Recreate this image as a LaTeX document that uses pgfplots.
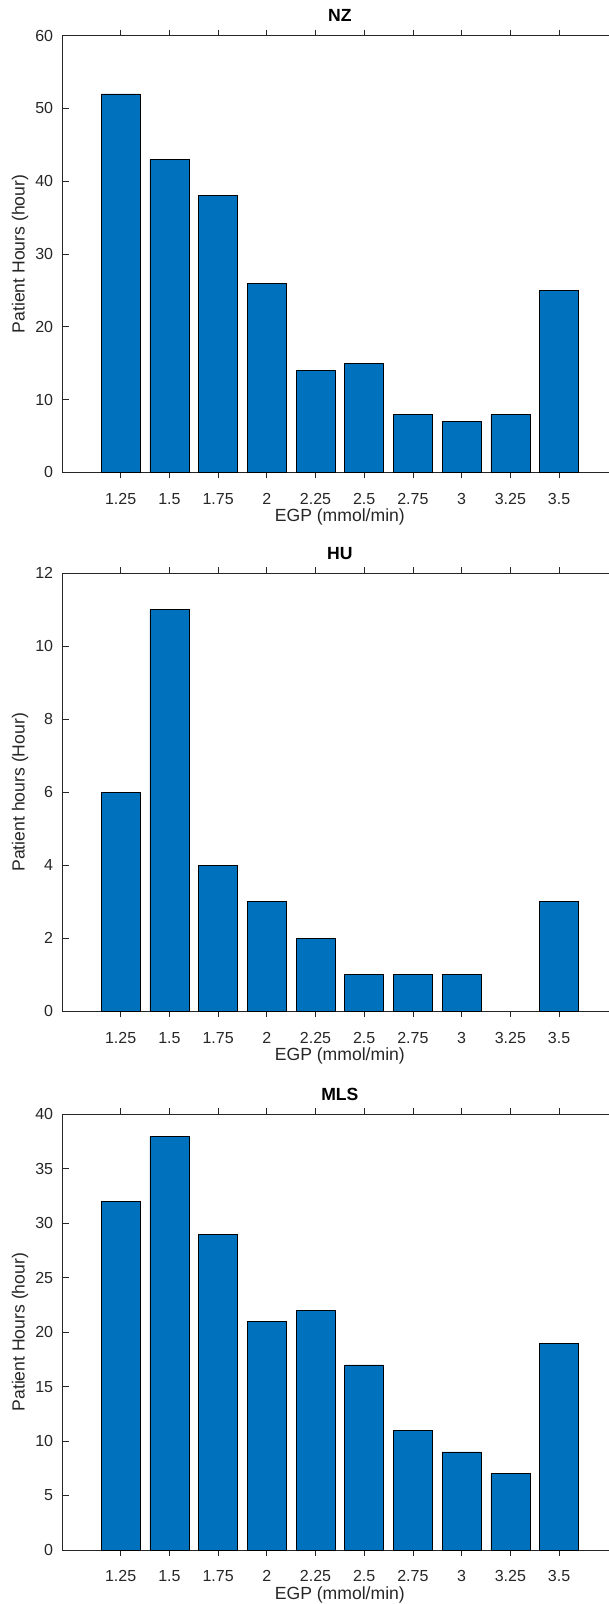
\documentclass[border=0pt]{standalone}
\usepackage{fontspec}
\setmainfont{Liberation Sans}
\usepackage{pgfplots}
\pgfplotsset{compat=1.18}
\definecolor{mblue}{RGB}{0,114,189}
\definecolor{axgray}{RGB}{38,38,38}
\pgfplotsset{
  egp/.style={
    scale only axis,
    width=554.3pt,
    xmin=-1.19, xmax=10.19,
    ymin=0,
    xtick={0,...,9},
    xticklabels={1.25,1.5,1.75,2,2.25,2.5,2.75,3,3.25,3.5},
    tick align=inside,
    major tick length=6pt,
    tick style={axgray, line width=0.8pt},
    axis line style={axgray, line width=0.9pt},
    /pgf/number format/assume math mode=true,
    ticklabel style={font=\fontsize{16}{19}\selectfont, text=axgray},
    xticklabel style={anchor=center, inner sep=0pt, yshift=-20.4pt},
    yticklabel style={anchor=east, inner sep=0pt, xshift=-9.4pt},
    xlabel={EGP (mmol/min)},
    every axis x label/.style={at={(axis description cs:0.5,0)}, anchor=center, yshift=-44.6pt, font=\fontsize{17.6}{21}\selectfont, text=axgray},
    every axis y label/.style={at={(axis description cs:0,0.5)}, anchor=center, rotate=90, yshift=42.7pt, font=\fontsize{17.6}{21}\selectfont, text=axgray},
    title style={font=\fontsize{17.6}{21}\selectfont\bfseries, anchor=center, at={(axis description cs:0.5,1)}, yshift=14pt},
    ybar, bar width=0.8,
  },
  egpbar/.style={fill=mblue, draw=black, line width=0.6pt},
}
\begin{document}
\begin{tikzpicture}
\begin{axis}[egp, at={(62.7pt,1131.7pt)}, anchor=south west, height=436.6pt,
  ymax=60, ytick={0,10,...,60}, title={NZ}, ylabel={Patient Hours (hour)}]
\addplot[egpbar] coordinates {(0,52) (1,43) (2,38) (3,26) (4,14) (5,15) (6,8) (7,7) (8,8) (9,25)};
\end{axis}
\begin{axis}[egp, at={(62.7pt,592.7pt)}, anchor=south west, height=438pt,
  ymax=12, ytick={0,2,...,12}, title={HU}, ylabel={Patient hours (Hour)}]
\addplot[egpbar] coordinates {(0,6) (1,11) (2,4) (3,3) (4,2) (5,1) (6,1) (7,1) (9,3)};
\end{axis}
\begin{axis}[egp, at={(62.7pt,54pt)}, anchor=south west, height=435.7pt,
  ymax=40, ytick={0,5,...,40}, title={MLS}, ylabel={Patient Hours (hour)}]
\addplot[egpbar] coordinates {(0,32) (1,38) (2,29) (3,21) (4,22) (5,17) (6,11) (7,9) (8,7) (9,19)};
\end{axis}
\pgfresetboundingbox
\path[use as bounding box] (0,0) rectangle (609pt,1604pt);
\end{tikzpicture}
\end{document}
